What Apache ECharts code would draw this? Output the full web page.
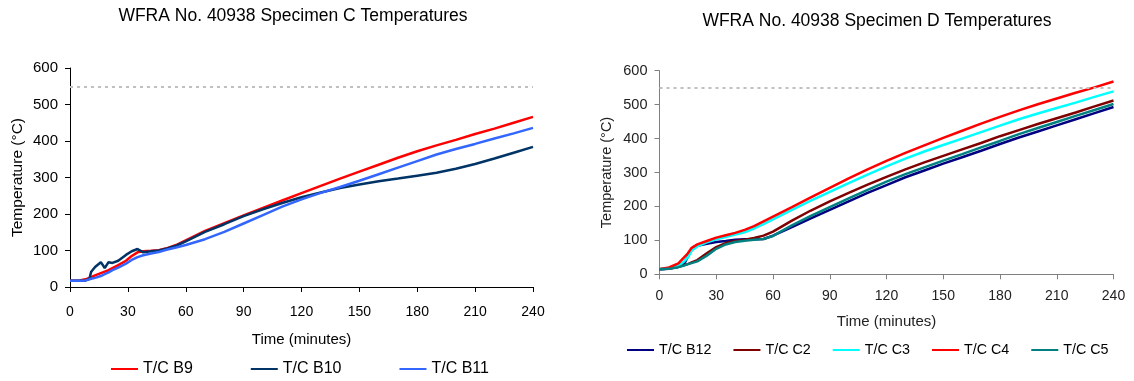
<!DOCTYPE html>
<html>
<head>
<meta charset="utf-8">
<script src="https://cdn.jsdelivr.net/npm/echarts@6/dist/echarts.min.js"></script>
<style>
  html, body { margin: 0; padding: 0; background: #fff; }
  #chart { width: 1134px; height: 381px; }
</style>
</head>
<body>
<div id="chart"></div>
<script>
// Specimen C
const timeC = [0, 5, 8, 10, 11, 13, 16, 18, 20, 22, 25, 29, 32, 35, 38, 42, 46, 50, 55, 60,
  70, 80, 90, 100, 110, 120, 130, 140, 150, 160, 170, 180, 190, 200, 210, 220, 230, 240];
const tcB9 = [17, 18, 21, 25, 27, 32, 38, 42, 46, 52, 60, 72, 85, 95, 98, 99, 101, 106, 115, 128,
  154, 175, 196, 217, 237, 257, 277, 297, 316, 335, 354, 372, 388, 403, 419, 434, 450, 466];
const tcB10 = [17, 17, 18, 22, 42, 55, 68, 52, 68, 66, 72, 88, 98, 104, 95, 98, 100, 105, 113, 125,
  151, 172, 194, 213, 230, 246, 259, 271, 281, 290, 297, 305, 313, 324, 337, 352, 368, 384];
const tcB11 = [17, 17, 18, 21, 22, 25, 30, 35, 40, 46, 53, 64, 74, 82, 87, 92, 96, 102, 108, 115,
  131, 151, 174, 197, 220, 240, 258, 274, 291, 309, 327, 345, 363, 378, 392, 407, 421, 436];

// Specimen D
const timeD = [0, 5, 10, 13, 15, 17, 20, 25, 30, 35, 40, 45, 50, 55, 60, 70, 80, 90, 100, 110,
  120, 130, 140, 150, 160, 170, 180, 190, 200, 210, 220, 230, 240];
const tcB12 = [15, 16, 22, 30, 52, 72, 84, 90, 95, 98, 102, 103, 103, 104, 114, 139, 165, 190, 215, 240,
  263, 286, 306, 326, 345, 364, 384, 403, 421, 439, 457, 475, 493];
const tcC2 = [15, 17, 22, 27, 30, 35, 42, 62, 80, 92, 98, 102, 107, 114, 126, 158, 188, 215, 240, 264,
  287, 309, 330, 349, 368, 387, 407, 425, 443, 460, 477, 495, 512];
const tcC3 = [15, 18, 25, 38, 50, 70, 82, 94, 103, 110, 117, 124, 135, 148, 162, 190, 217, 243, 269, 294,
  318, 341, 362, 381, 400, 419, 438, 457, 474, 490, 506, 523, 539];
const tcC4 = [15, 20, 32, 50, 62, 78, 88, 98, 108, 115, 122, 131, 142, 156, 170, 198, 227, 255, 283, 309,
  334, 358, 380, 402, 423, 444, 464, 483, 501, 518, 535, 551, 568];
const tcC5 = [15, 16, 21, 26, 30, 33, 38, 55, 75, 88, 95, 99, 102, 104, 113, 144, 172, 198, 224, 249,
  273, 295, 315, 335, 354, 374, 393, 413, 431, 449, 467, 484, 502];

const limitTemp = 550;

const FONT = "'Liberation Sans', Arial, sans-serif";

function pairs(times, vals) {
  return times.map((t, i) => [t, vals[i]]);
}

function line(name, color, times, vals, idx) {
  return {
    name,
    type: 'line',
    xAxisIndex: idx,
    yAxisIndex: idx,
    data: pairs(times, vals),
    showSymbol: false,
    symbol: 'none',
    animation: false,
    lineStyle: { color, width: 2.5 },
    itemStyle: { color }
  };
}

function limitLine() {
  return {
    silent: true,
    symbol: ['none', 'none'],
    label: { show: false },
    lineStyle: { color: '#c0c0c0', type: [3, 4], width: 2 },
    data: [{ yAxis: limitTemp }]
  };
}

function xAxisFor(idx, axisColor, labelColor, fontSize, margin, nameGap) {
  return {
    gridIndex: idx,
    type: 'value',
    min: 0, max: 240, interval: 30,
    name: 'Time (minutes)',
    nameLocation: 'middle',
    nameGap,
    nameTextStyle: { fontFamily: FONT, fontSize: fontSize + 1, color: labelColor },
    axisLine: { show: true, lineStyle: { color: axisColor, width: 1 } },
    axisTick: { show: true, length: 5, lineStyle: { color: axisColor } },
    axisLabel: { fontFamily: FONT, fontSize, color: labelColor, margin },
    splitLine: { show: false }
  };
}

function yAxisFor(idx, axisColor, labelColor, fontSize, nameSize, nameGap) {
  return {
    gridIndex: idx,
    type: 'value',
    min: 0, max: 600, interval: 100,
    name: 'Temperature (°C)',
    nameLocation: 'middle',
    nameGap,
    nameTextStyle: { fontFamily: FONT, fontSize: nameSize, color: labelColor },
    axisLine: { show: true, lineStyle: { color: axisColor, width: 1 } },
    axisTick: { show: true, length: 5, lineStyle: { color: axisColor } },
    axisLabel: { fontFamily: FONT, fontSize, color: labelColor, margin: 12 },
    splitLine: { show: false }
  };
}

const chart = echarts.init(document.getElementById('chart'));

const seriesC = [
  line('T/C B9', '#ff0000', timeC, tcB9, 0),
  line('T/C B10', '#003366', timeC, tcB10, 0),
  line('T/C B11', '#3366ff', timeC, tcB11, 0)
];
seriesC[0].markLine = limitLine();

const seriesD = [
  line('T/C B12', '#000080', timeD, tcB12, 1),
  line('T/C C2', '#800000', timeD, tcC2, 1),
  line('T/C C3', '#00ffff', timeD, tcC3, 1),
  line('T/C C4', '#ff0000', timeD, tcC4, 1),
  line('T/C C5', '#008080', timeD, tcC5, 1)
];
seriesD[0].markLine = limitLine();

chart.setOption({
  animation: false,
  backgroundColor: '#ffffff',
  title: [
    {
      text: 'WFRA No. 40938 Specimen C Temperatures',
      left: 288, top: 2, textAlign: 'center',
      textStyle: { fontFamily: FONT, fontSize: 17.5, fontWeight: 'normal', color: '#000' }
    },
    {
      text: 'WFRA No. 40938 Specimen D Temperatures',
      left: 872, top: 7, textAlign: 'center',
      textStyle: { fontFamily: FONT, fontSize: 17.5, fontWeight: 'normal', color: '#000' }
    }
  ],
  legend: [
    {
      data: seriesC.map(s => s.name),
      left: 106, top: 356,
      icon: 'rect', itemWidth: 27, itemHeight: 2, itemGap: 58,
      textStyle: { fontFamily: FONT, fontSize: 16, color: '#000' }
    },
    {
      data: seriesD.map(s => s.name),
      left: 622, top: 338,
      icon: 'rect', itemWidth: 27, itemHeight: 2, itemGap: 22,
      textStyle: { fontFamily: FONT, fontSize: 14.3, color: '#000' }
    }
  ],
  grid: [
    { left: 70, top: 68, width: 463, height: 219 },
    { left: 659.5, top: 70.7, width: 454, height: 203.6 }
  ],
  xAxis: [
    xAxisFor(0, '#000', '#000', 14, 18, 45),
    xAxisFor(1, '#808080', '#222', 14, 15, 40)
  ],
  yAxis: [
    yAxisFor(0, '#000', '#000', 15, 15.5, 44),
    yAxisFor(1, '#808080', '#222', 14.5, 14.5, 45)
  ],
  series: [...seriesC, ...seriesD]
});
</script>
</body>
</html>
